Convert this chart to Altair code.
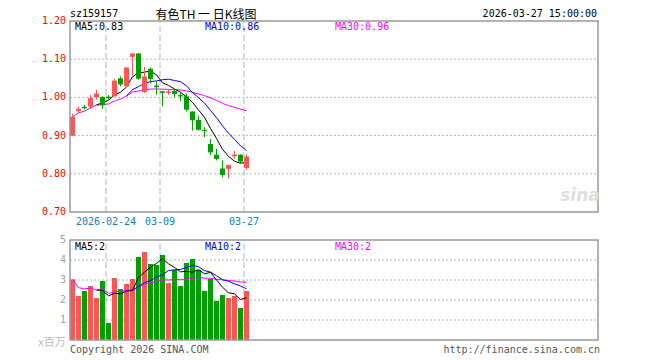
import altair as alt
import pandas as pd

# ---------------- data ----------------
idx = list(range(30))
opens = [0.900, 0.964, 0.975, 0.976, 1.001, 1.001, 1.002, 1.003, 1.050, 1.029,
         1.106, 1.115, 1.014, 1.075, 1.031, 1.016, 1.012, 1.017, 1.006, 1.003,
         0.963, 0.941, 0.915, 0.878, 0.850, 0.814, 0.813, 0.846, 0.850, 0.815]
closes = [0.949, 0.970, 0.973, 0.999, 1.010, 0.980, 1.000, 1.044, 1.034, 1.078,
          1.115, 1.049, 1.055, 1.048, 1.028, 1.012, 1.014, 1.009, 1.004, 0.968,
          0.940, 0.915, 0.913, 0.856, 0.839, 0.797, 0.823, 0.849, 0.832, 0.845]
highs = [0.958, 0.976, 0.980, 1.006, 1.020, 1.003, 1.006, 1.048, 1.055, 1.080,
         1.116, 1.116, 1.080, 1.078, 1.042, 1.017, 1.020, 1.020, 1.012, 1.010,
         0.964, 0.952, 0.922, 0.891, 0.865, 0.835, 0.823, 0.860, 0.851, 0.851]
lows = [0.898, 0.961, 0.968, 0.970, 0.994, 0.970, 0.994, 1.002, 1.029, 1.027,
        1.057, 1.046, 1.012, 1.036, 1.007, 0.976, 1.007, 1.001, 0.990, 0.963,
        0.913, 0.913, 0.896, 0.849, 0.835, 0.791, 0.787, 0.839, 0.826, 0.810]
volumes = [3.03, 2.20, 2.45, 2.70, 2.10, 2.95, 0.85, 3.10, 2.55, 2.80,
           3.05, 4.15, 4.40, 3.80, 3.75, 4.25, 2.85, 3.50, 2.70, 3.85,
           4.05, 3.50, 2.45, 3.05, 1.95, 2.25, 2.10, 2.20, 1.60, 2.45]
label_idx = [6, 15, 29]
label_text = ["2026-02-24", "03-09", "03-27"]
price_ticks = [0.70, 0.80, 0.90, 1.00, 1.10, 1.20]
vol_ticks = [1, 2, 3, 4, 5]
price_range = [0.70, 1.20]
vol_range = [0, 5]

# ---------------- layout / style ----------------
W, H = 528, 319
RED = "#ff5555"
GREEN = "#00a000"
GRID = "#b4b4b4"
FRAME = "#999999"
MONO = "DejaVu Sans Mono"
CJK = "Noto Sans CJK SC"

df = pd.DataFrame({"idx": idx, "open": opens, "close": closes,
                   "high": highs, "low": lows, "vol": volumes})
df["zero"] = 0.0
df["ma5"] = df["close"].rolling(5).mean()
df["ma10"] = df["close"].rolling(10).mean()
df["ma30"] = df["close"].rolling(30, min_periods=1).mean()
df["vma5"] = df["vol"].rolling(5).mean()
df["vma10"] = df["vol"].rolling(10).mean()
df["vma30"] = df["vol"].rolling(30, min_periods=1).mean()

labels = pd.DataFrame({"idx": label_idx, "t": label_text,
                       "plo": price_range[0], "phi": price_range[1],
                       "vlo": vol_range[0], "vhi": vol_range[1]})
pt = pd.DataFrame({"v": price_ticks})
vt = pd.DataFrame({"v": vol_ticks})
pframe = pd.DataFrame({"lo": [price_range[0]], "hi": [price_range[1]]})
vframe = pd.DataFrame({"lo": [vol_range[0]], "hi": [vol_range[1]]})
one = pd.DataFrame({"a": [0]})

xscale = alt.Scale(domain=[-2.5 / 6, (W - 2.5) / 6], nice=False, zero=False, padding=0)
pscale = alt.Scale(domain=price_range, range=[191, 0], nice=False, zero=False, padding=0)
vscale = alt.Scale(domain=vol_range, range=[319, 219], nice=False, zero=False, padding=0)

X = alt.X("idx:Q", scale=xscale, axis=None)
PY = lambda f: alt.Y(f, scale=pscale, axis=None)
VY = lambda f: alt.Y(f, scale=vscale, axis=None)
color_cond = alt.condition("datum.close >= datum.open", alt.value(RED), alt.value(GREEN))


def txt(text, x, y, color="#000000", align="left", font=MONO, size=10, **kw):
    return alt.Chart(one).mark_text(text=text, align=align, baseline="alphabetic",
                                    font=font, fontSize=size, color=color, **kw).encode(
        x=alt.value(x), y=alt.value(y))


# ---------------- price panel ----------------
p_grid = alt.Chart(pt).transform_filter("datum.v > 0.75 && datum.v < 1.15").mark_rule(
    color=GRID, strokeDash=[2, 2], strokeWidth=1).encode(
    y=PY("v:Q"), x=alt.value(0), x2=alt.value(W))
p_vgrid = alt.Chart(labels).mark_rule(color=GRID, strokeDash=[6, 3], strokeWidth=1,
                                      xOffset=-2.5).encode(
    x=X, y=PY("plo:Q"), y2="phi:Q")
p_frame = alt.Chart(pframe).mark_rect(fill="white", fillOpacity=0, stroke=FRAME,
                                      strokeWidth=1.5).encode(
    x=alt.value(0), x2=alt.value(W), y=PY("hi:Q"), y2="lo:Q")
wicks = alt.Chart(df).mark_rule(strokeWidth=1).encode(
    x=X, y=PY("low:Q"), y2="high:Q", color=color_cond)
bodies = alt.Chart(df).mark_bar(size=5).encode(
    x=X, y=PY("open:Q"), y2="close:Q", color=color_cond)
dojis = alt.Chart(df).transform_filter("abs(datum.close - datum.open) < 0.004").mark_rule(
    strokeWidth=1, xOffset=-2.5, x2Offset=2.5).encode(
    x=X, x2="idx:Q", y=PY("close:Q"), color=color_cond)
ma5 = alt.Chart(df).mark_line(color="#000000", strokeWidth=1).encode(x=X, y=PY("ma5:Q"))
ma10 = alt.Chart(df).mark_line(color="#0000ff", strokeWidth=1).encode(x=X, y=PY("ma10:Q"))
ma30 = alt.Chart(df).mark_line(color="#ff00ff", strokeWidth=1).encode(x=X, y=PY("ma30:Q"))
p_labels = alt.Chart(pt).mark_text(align="right", baseline="middle", font=MONO,
                                   fontSize=10, color="#ff0000", dx=-4).encode(
    y=PY("v:Q"), x=alt.value(0), text=alt.Text("v:Q", format=".2f"))
date_labels = alt.Chart(labels).mark_text(align="center", baseline="alphabetic", font=MONO,
                                          fontSize=10, color="#0a7fc8", xOffset=-2.5).encode(
    x=X, y=alt.value(204), text="t:N")

price = alt.layer(
    p_grid, p_vgrid, ma30, ma10, ma5, wicks, bodies, dojis, p_frame, p_labels, date_labels,
    txt("MA5:0.83", 5, 8.5),
    txt("MA10:0.86", 135, 8.5, color="#0000ff"),
    txt("MA30:0.96", 265, 8.5, color="#ff00ff"),
    txt("sz159157", 0, -4),
    txt("有色TH 一 日K线图", 136, -2, align="center", font=CJK, size=12),
    txt("2026-03-27 15:00:00", 527, -4, align="right"),
    txt("sina", 510, 180, color="#dedede", font="DejaVu Sans", size=17,
        fontStyle="italic", fontWeight="bold", align="center"),
)

# ---------------- volume panel ----------------
v_grid = alt.Chart(vt).transform_filter("datum.v < 5").mark_rule(
    color=GRID, strokeDash=[2, 2], strokeWidth=1).encode(
    y=VY("v:Q"), x=alt.value(0), x2=alt.value(W))
v_vgrid = alt.Chart(labels).mark_rule(color=GRID, strokeDash=[6, 3], strokeWidth=1,
                                      xOffset=-2.5).encode(
    x=X, y=VY("vlo:Q"), y2="vhi:Q")
v_frame = alt.Chart(vframe).mark_rect(fill="white", fillOpacity=0, stroke=FRAME,
                                      strokeWidth=1.5).encode(
    x=alt.value(0), x2=alt.value(W), y=VY("hi:Q"), y2="lo:Q")
vbars = alt.Chart(df).mark_bar(size=5).encode(
    x=X, y=VY("vol:Q"), y2="zero:Q", color=color_cond)
vma5 = alt.Chart(df).mark_line(color="#000000", strokeWidth=1).encode(x=X, y=VY("vma5:Q"))
vma10 = alt.Chart(df).mark_line(color="#0000ff", strokeWidth=1).encode(x=X, y=VY("vma10:Q"))
vma30 = alt.Chart(df).mark_line(color="#ff00ff", strokeWidth=1).encode(x=X, y=VY("vma30:Q"))
v_labels = alt.Chart(vt).mark_text(align="right", baseline="middle", font=MONO,
                                   fontSize=10, color="#a0a0a0", dx=-4).encode(
    y=VY("v:Q"), x=alt.value(0), text=alt.Text("v:Q", format="d"))

volume = alt.layer(
    v_grid, v_vgrid, vbars, vma30, vma10, vma5, v_frame, v_labels,
    txt("MA5:2", 5, 228.5),
    txt("MA10:2", 135, 228.5, color="#0000ff"),
    txt("MA30:2", 265, 228.5, color="#ff00ff"),
    txt("x百万", -18, 325, color="#bbbbbb", font=CJK, size=11, align="center"),
    txt("Copyright 2026 SINA.COM", 0, 331.5, color="#555555"),
    txt("http://finance.sina.com.cn", 530, 331.5, color="#555555", align="right"),
)

chart = alt.layer(price, volume).resolve_scale(y="independent").properties(
    width=W, height=H,
    autosize=alt.AutoSizeParams(type="none"),
    padding={"left": 62, "top": 13, "right": 4, "bottom": 20},
).configure_view(stroke=None)

chart.save("out.html", embed_options={"renderer": "svg", "actions": False})
